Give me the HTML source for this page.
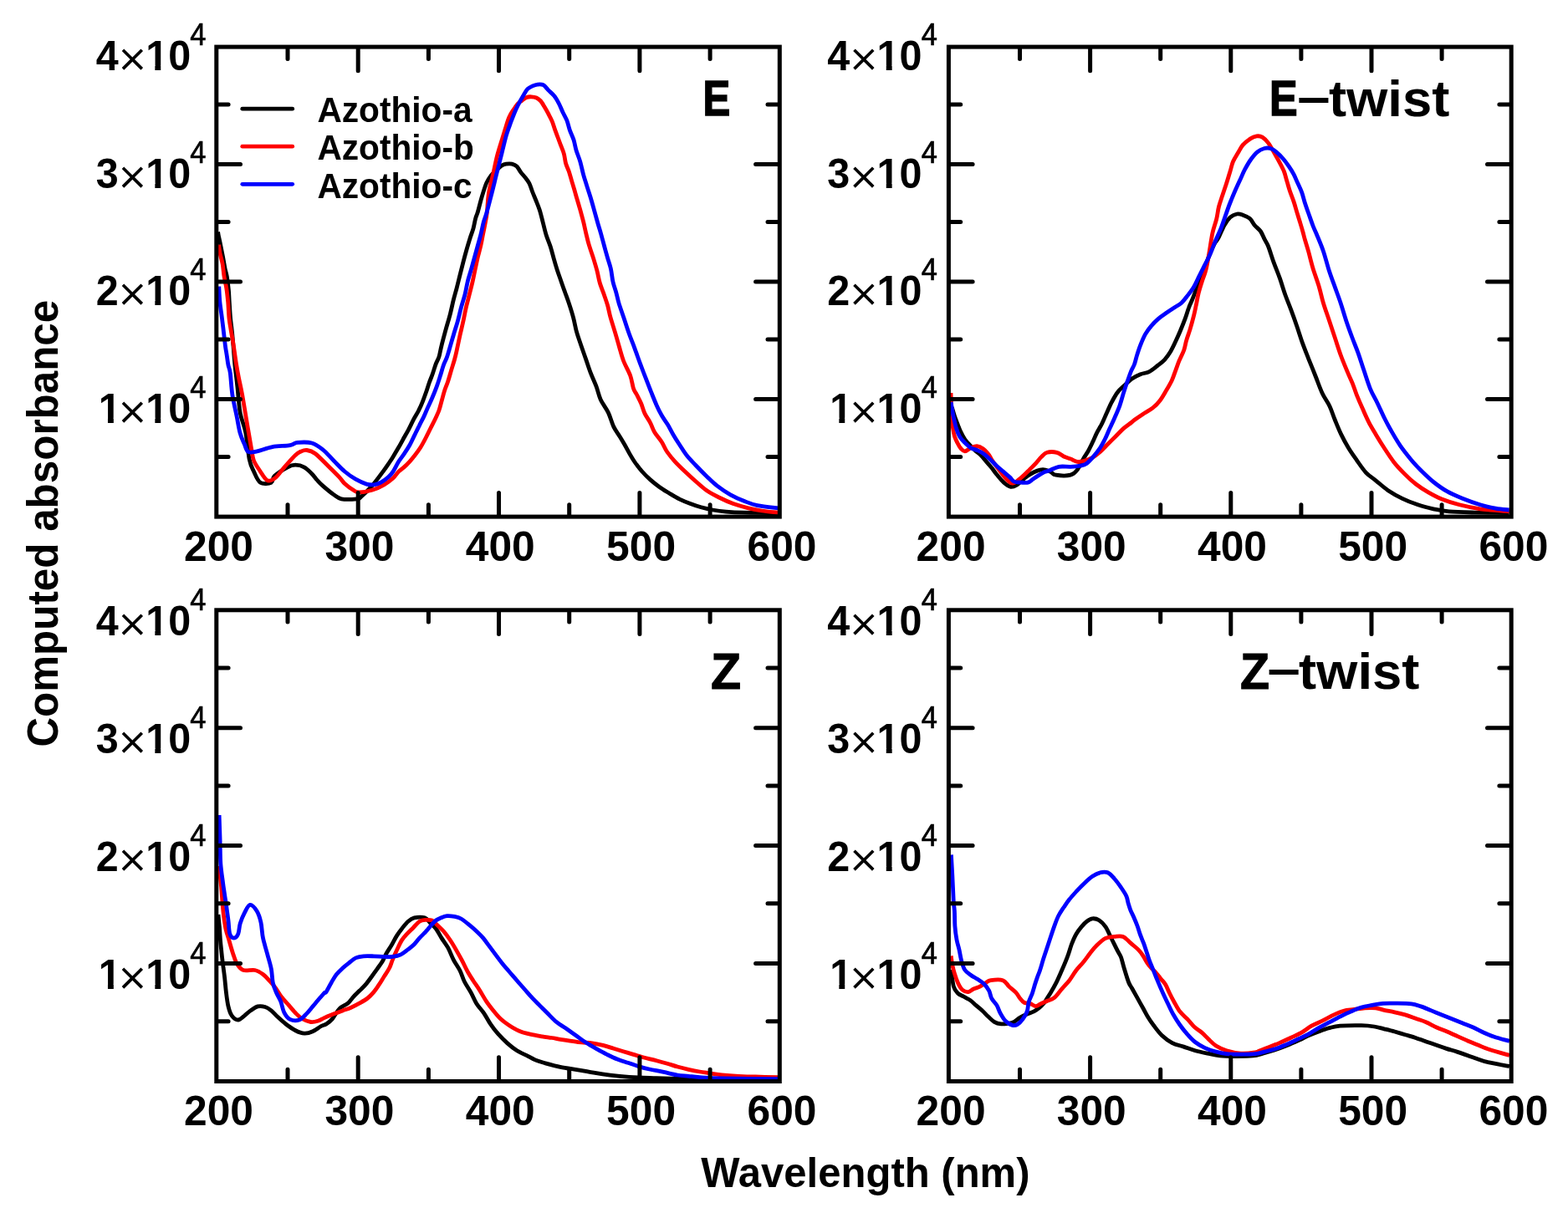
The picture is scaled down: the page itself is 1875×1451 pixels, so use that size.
<!DOCTYPE html>
<html><head><meta charset="utf-8"><title>Computed absorbance spectra</title>
<style>
html,body{margin:0;padding:0;background:#fff;}
svg{display:block;}
text{font-family:"Liberation Sans",Arial,Helvetica,sans-serif;font-weight:bold;fill:#000;}
.reg{font-weight:normal;}
.dj{font-family:"DejaVu Sans",sans-serif;font-weight:normal;}
</style></head><body>
<svg width="1875" height="1451" viewBox="0 0 1875 1451">
<defs><clipPath id="c1"><path d="M-8,-60H40V-6.2H18.6V4H11.5V-6.2H-8Z"/></clipPath></defs>
<rect x="0" y="0" width="1875" height="1451" fill="#fff"/>
<g fill="none" stroke-width="4.8" stroke-linejoin="round" stroke-linecap="butt">
<path stroke="#000" d="M260.6,277.5 C260.8,278.4 260.9,280.0 261.5,282.7 C262.1,285.4 263.1,289.8 263.9,293.9 C264.7,297.9 265.6,302.4 266.5,307.0 C267.4,311.6 268.3,317.4 269.1,321.4 C269.9,325.4 270.7,326.9 271.4,331.2 C272.1,335.5 272.9,341.9 273.4,347.0 C273.9,352.1 273.9,356.3 274.3,362.0 C274.7,367.7 275.0,374.7 275.6,381.0 C276.2,387.3 277.2,393.5 277.8,400.0 C278.4,406.5 279.0,414.1 279.5,420.0 C280.0,425.9 280.1,428.7 280.8,435.7 C281.5,442.7 282.8,452.4 283.8,462.0 C284.9,471.6 285.5,484.2 287.1,493.3 C288.7,502.4 291.8,507.5 293.6,516.9 C295.5,526.3 296.6,541.8 298.2,549.6 C299.8,557.5 301.3,559.4 303.5,564.0 C305.7,568.6 307.8,575.0 311.3,577.2 C314.8,579.4 321.6,578.5 324.4,577.2 C327.2,575.9 325.0,572.4 328.3,569.3 C331.6,566.2 339.9,561.0 344.0,558.8 C348.1,556.6 349.9,556.2 353.2,556.2 C356.5,556.2 360.4,557.0 363.7,558.8 C367.0,560.5 370.3,564.1 372.9,566.7 C375.5,569.3 377.2,572.1 379.4,574.5 C381.6,576.9 382.7,578.2 386.0,581.1 C389.3,584.0 395.3,589.0 399.0,591.6 C402.7,594.2 403.6,595.9 408.2,596.8 C412.8,597.7 422.7,597.2 426.6,596.8 C430.5,596.4 428.8,596.8 431.8,594.2 C434.9,591.6 440.5,586.1 444.9,581.1 C449.3,576.1 454.7,568.5 458.0,564.1 C461.3,559.7 462.5,557.9 464.5,554.9 C466.5,551.9 468.0,549.7 470.0,546.4 C472.0,543.1 474.4,539.1 476.6,535.3 C478.8,531.5 481.2,527.0 483.1,523.5 C485.1,520.0 486.3,518.0 488.3,514.3 C490.3,510.6 492.8,505.1 494.9,501.2 C497.0,497.3 499.1,494.2 500.8,490.7 C502.6,487.2 504.0,483.8 505.4,480.3 C506.8,476.8 508.0,473.5 509.3,469.8 C510.6,466.1 511.9,461.7 513.2,458.0 C514.5,454.3 515.9,451.2 517.2,447.5 C518.5,443.8 519.8,439.2 521.1,435.7 C522.4,432.2 523.9,430.2 525.0,426.6 C526.1,423.0 526.5,419.2 527.9,413.8 C529.2,408.4 531.4,400.4 533.1,394.1 C534.8,387.8 536.8,381.7 538.3,375.8 C539.8,369.9 541.0,363.9 542.3,358.7 C543.6,353.4 544.9,349.3 546.2,344.3 C547.5,339.3 548.8,333.8 550.1,328.6 C551.4,323.4 552.8,317.9 554.1,312.9 C555.4,307.9 556.7,303.1 558.0,298.5 C559.3,293.9 560.6,289.5 561.9,285.4 C563.2,281.2 564.8,277.5 565.9,273.6 C567.0,269.7 567.6,265.2 568.5,261.8 C569.4,258.4 570.3,257.2 571.5,253.0 C572.7,248.8 574.2,242.2 575.9,236.5 C577.6,230.8 579.8,223.4 581.7,218.9 C583.7,214.4 585.7,212.0 587.6,209.5 C589.5,207.0 591.2,205.6 593.4,203.7 C595.5,201.8 598.5,199.1 600.5,197.8 C602.5,196.5 603.2,196.4 605.2,196.1 C607.2,195.8 610.1,195.6 612.2,196.1 C614.3,196.6 616.2,197.3 618.0,199.0 C619.8,200.7 620.9,203.7 622.7,206.0 C624.5,208.3 626.9,210.8 628.6,213.0 C630.3,215.2 631.7,216.8 633.0,219.5 C634.3,222.2 635.2,225.6 636.5,229.0 C637.8,232.4 639.5,236.3 641.0,240.0 C642.5,243.7 643.8,246.7 645.2,251.0 C646.6,255.3 647.9,261.0 649.2,266.0 C650.5,271.0 651.6,276.1 653.1,281.0 C654.6,285.9 656.8,290.5 658.3,295.3 C659.8,300.1 661.0,305.1 662.3,309.7 C663.6,314.3 664.8,318.4 666.2,322.8 C667.6,327.2 669.3,331.5 670.8,335.9 C672.3,340.3 673.8,344.5 675.4,349.0 C677.0,353.5 678.7,357.9 680.4,363.0 C682.1,368.1 684.0,374.0 685.5,379.6 C687.0,385.2 687.9,391.2 689.4,396.7 C690.9,402.2 692.8,406.9 694.6,412.4 C696.5,417.8 698.5,423.7 700.5,429.4 C702.5,435.1 704.3,440.9 706.4,446.4 C708.5,451.8 711.0,456.9 713.0,462.1 C715.0,467.4 715.8,472.6 718.2,477.9 C720.6,483.1 724.8,488.2 727.4,493.6 C730.0,499.1 731.6,505.9 733.9,510.6 C736.2,515.3 738.9,518.6 741.0,522.0 C743.1,525.4 744.4,527.6 746.4,531.0 C748.4,534.4 750.7,538.9 752.8,542.6 C754.9,546.3 756.7,549.4 759.2,553.0 C761.7,556.6 764.8,560.6 767.8,564.0 C770.8,567.4 774.0,570.6 777.4,573.6 C780.8,576.6 784.4,579.5 788.1,582.2 C791.8,584.9 795.7,587.2 799.8,589.7 C803.9,592.2 808.3,595.0 812.6,597.1 C816.9,599.2 821.2,600.9 825.5,602.5 C829.8,604.1 833.8,605.5 838.3,606.8 C842.8,608.0 847.2,609.1 852.2,610.0 C857.2,610.9 862.0,611.6 868.2,612.1 C874.4,612.6 879.3,612.9 889.6,613.2 C899.9,613.5 923.4,613.6 930.2,613.7"/>
<path stroke="#f00" d="M261.6,292.8 C261.8,294.4 262.1,298.6 262.9,302.4 C263.6,306.2 265.2,310.7 266.1,315.5 C267.0,320.3 267.3,326.4 268.1,331.2 C268.9,336.0 269.9,339.3 270.7,344.3 C271.5,349.3 272.1,355.2 272.7,361.3 C273.2,367.4 273.4,375.5 274.0,381.0 C274.6,386.5 275.3,389.7 276.0,394.1 C276.7,398.5 277.6,402.9 278.3,407.2 C279.0,411.5 279.6,415.4 280.3,420.2 C281.0,425.0 281.7,430.7 282.6,436.0 C283.5,441.3 284.3,445.9 285.5,452.0 C286.7,458.1 287.9,462.4 289.7,472.4 C291.5,482.3 294.4,500.8 296.3,511.7 C298.2,522.6 299.6,531.4 300.8,537.9 C302.0,544.4 301.8,546.6 303.5,551.0 C305.2,555.4 309.2,560.7 311.3,564.0 C313.4,567.3 314.4,569.1 316.0,571.0 C317.6,572.9 318.8,575.2 321.1,575.2 C323.4,575.2 326.8,573.7 330.0,571.0 C333.2,568.3 336.2,563.2 340.1,558.8 C344.0,554.4 349.9,547.5 353.2,544.4 C356.5,541.3 357.7,541.0 360.0,540.0 C362.3,539.0 364.2,538.1 367.0,538.5 C369.8,538.9 372.6,539.3 376.8,542.5 C381.1,545.7 387.7,552.8 392.5,557.5 C397.3,562.2 402.3,567.1 405.6,570.6 C408.9,574.1 409.4,575.9 412.2,578.5 C415.0,581.1 419.8,584.6 422.6,586.3 C425.4,588.0 425.5,588.9 429.2,588.9 C432.9,588.9 439.9,587.8 444.9,586.3 C449.9,584.8 455.1,582.2 459.3,579.8 C463.5,577.4 467.1,574.6 470.0,572.0 C472.9,569.4 474.4,566.3 476.6,564.1 C478.8,561.9 480.9,560.9 483.1,558.9 C485.3,556.9 487.5,554.7 489.7,552.3 C491.9,549.9 494.0,547.3 496.2,544.5 C498.4,541.7 500.6,538.8 502.8,535.3 C505.0,531.8 507.4,527.2 509.3,523.5 C511.2,519.8 512.8,516.5 514.5,513.0 C516.2,509.5 518.0,506.2 519.8,502.5 C521.5,498.8 523.6,494.6 525.0,490.7 C526.4,486.8 527.2,482.9 528.3,479.0 C529.4,475.1 530.4,470.9 531.6,467.2 C532.8,463.5 534.2,460.6 535.5,456.7 C536.8,452.8 538.1,448.0 539.4,443.6 C540.7,439.2 542.3,434.4 543.4,430.5 C544.5,426.6 544.9,425.0 546.0,420.0 C547.1,415.0 548.8,406.8 550.1,400.7 C551.5,394.6 552.9,389.1 554.1,383.6 C555.3,378.1 556.1,373.1 557.3,367.9 C558.5,362.7 560.0,357.4 561.3,352.2 C562.6,347.0 564.0,341.8 565.2,336.5 C566.4,331.2 567.4,325.7 568.5,320.7 C569.6,315.7 570.6,310.9 571.7,306.3 C572.8,301.7 574.0,297.6 575.0,293.2 C576.0,288.8 576.7,284.5 577.6,280.1 C578.5,275.7 579.4,271.3 580.2,267.0 C581.0,262.7 581.6,260.6 582.3,254.5 C583.0,248.4 583.2,238.5 584.5,230.6 C585.8,222.7 588.1,214.9 589.9,207.2 C591.6,199.5 593.0,191.9 595.0,184.5 C597.0,177.1 599.9,168.3 601.6,162.7 C603.3,157.1 604.0,154.6 605.2,150.9 C606.4,147.2 607.3,143.5 608.7,140.4 C610.1,137.3 611.6,134.9 613.4,132.2 C615.1,129.5 617.5,126.0 619.2,124.0 C621.0,122.0 622.1,121.8 623.9,120.5 C625.7,119.2 627.8,117.2 629.8,116.4 C631.8,115.6 633.6,115.7 635.6,115.8 C637.6,115.9 639.7,116.2 641.5,117.0 C643.3,117.8 644.6,118.8 646.2,120.5 C647.8,122.2 649.4,125.0 650.9,127.5 C652.4,130.0 654.0,132.8 655.5,135.7 C657.0,138.6 658.8,141.8 660.2,145.1 C661.6,148.4 662.6,152.3 663.8,155.6 C665.0,158.9 666.1,161.9 667.3,165.0 C668.5,168.1 669.6,171.3 670.8,174.4 C672.0,177.5 673.3,180.3 674.3,183.8 C675.3,187.3 675.6,192.0 676.6,195.5 C677.6,199.0 679.0,201.3 680.2,204.8 C681.4,208.3 682.5,212.7 683.7,216.6 C684.9,220.5 686.3,225.2 687.2,228.3 C688.1,231.4 688.0,231.3 689.1,235.0 C690.2,238.7 692.3,245.7 693.7,250.7 C695.1,255.7 696.4,260.4 697.6,265.2 C698.8,270.0 699.8,275.0 700.9,279.6 C702.0,284.2 702.8,287.9 704.2,292.7 C705.6,297.5 707.8,303.2 709.4,308.4 C711.0,313.6 712.7,319.1 714.0,324.1 C715.3,329.1 715.9,333.7 717.3,338.5 C718.7,343.3 721.0,348.5 722.5,352.9 C724.0,357.3 725.2,360.6 726.5,365.0 C727.8,369.4 728.5,374.3 730.0,379.6 C731.5,384.9 733.5,390.8 735.2,396.7 C737.0,402.6 738.8,409.1 740.5,415.0 C742.2,420.9 743.5,426.3 745.7,432.0 C747.9,437.7 751.6,443.5 753.6,449.0 C755.6,454.5 756.2,461.0 757.5,464.8 C758.8,468.6 759.9,469.0 761.4,472.0 C762.9,475.0 765.1,479.0 766.7,482.8 C768.3,486.6 769.2,490.9 771.0,494.6 C772.8,498.4 775.4,501.6 777.4,505.3 C779.4,509.0 780.4,513.1 782.7,517.0 C785.0,520.9 788.8,524.9 791.3,528.8 C793.8,532.7 795.0,536.6 797.7,540.5 C800.4,544.4 803.7,548.4 807.3,552.3 C810.9,556.2 815.0,560.1 819.1,564.0 C823.2,567.9 827.6,572.0 831.9,575.8 C836.2,579.5 840.1,583.3 844.7,586.5 C849.3,589.7 854.4,592.3 859.7,595.0 C865.1,597.7 870.9,600.4 876.8,602.5 C882.7,604.6 889.2,606.4 894.9,607.8 C900.6,609.2 905.0,610.1 910.9,611.0 C916.8,611.9 927.0,612.8 930.2,613.2"/>
<path stroke="#00f" d="M261.8,342.6 C262.0,345.7 262.3,354.9 262.9,361.3 C263.5,367.7 264.8,375.1 265.5,381.0 C266.2,386.9 266.8,391.2 267.4,396.7 C268.0,402.1 268.8,409.0 269.4,413.7 C270.0,418.4 270.6,421.1 271.2,425.0 C271.8,428.9 272.3,433.5 273.0,437.0 C273.7,440.5 274.5,440.3 275.3,446.2 C276.1,452.1 276.6,463.7 277.9,472.4 C279.2,481.1 281.7,491.0 283.2,498.6 C284.7,506.2 285.6,512.8 287.1,518.2 C288.6,523.7 290.7,527.6 292.3,531.3 C293.9,535.0 294.4,539.1 296.9,540.5 C299.4,541.9 302.6,540.8 307.4,539.8 C312.2,538.8 319.1,535.8 325.7,534.6 C332.2,533.4 341.7,533.5 346.7,532.6 C351.7,531.7 351.4,529.8 355.8,529.4 C360.2,529.0 367.9,528.6 372.9,530.0 C377.9,531.4 381.6,534.4 386.0,537.9 C390.4,541.4 394.6,546.6 399.0,551.0 C403.4,555.4 407.8,560.3 412.2,564.0 C416.6,567.7 420.8,570.7 425.2,573.2 C429.6,575.7 434.6,578.0 438.3,579.1 C442.0,580.2 444.6,580.1 447.5,579.8 C450.4,579.5 452.6,578.7 455.4,577.2 C458.2,575.7 462.1,572.8 464.5,570.6 C466.9,568.4 468.0,567.2 470.0,564.1 C472.0,561.0 474.4,555.8 476.6,552.3 C478.8,548.8 480.9,546.4 483.1,543.1 C485.3,539.8 487.5,536.6 489.7,532.7 C491.9,528.8 494.2,523.5 496.2,519.6 C498.1,515.7 499.6,512.6 501.4,509.1 C503.1,505.6 504.9,502.3 506.7,498.6 C508.4,494.9 510.1,490.7 511.9,486.8 C513.6,482.9 515.5,479.1 517.2,475.0 C519.0,470.9 520.9,466.0 522.4,461.9 C523.9,457.8 525.0,454.2 526.3,450.1 C527.6,446.0 529.0,440.7 530.3,437.0 C531.6,433.3 533.1,430.9 534.2,427.9 C535.3,424.9 535.6,423.5 537.0,419.0 C538.4,414.5 540.5,406.6 542.3,400.7 C544.0,394.8 546.0,389.1 547.5,383.6 C549.0,378.1 550.0,373.1 551.4,367.9 C552.8,362.7 554.7,357.4 556.0,352.2 C557.3,347.0 558.0,341.8 559.3,336.5 C560.6,331.2 562.5,325.7 563.9,320.7 C565.3,315.7 566.6,310.7 567.8,306.3 C569.0,301.9 569.9,298.9 571.1,294.5 C572.3,290.1 573.8,284.9 575.0,280.1 C576.2,275.3 577.1,270.1 578.3,265.7 C579.5,261.3 580.6,259.4 582.2,253.5 C583.9,247.7 586.2,238.3 588.2,230.6 C590.2,222.9 592.0,215.0 594.0,207.2 C596.0,199.4 598.0,191.2 599.9,183.8 C601.8,176.4 603.7,168.0 605.2,162.7 C606.7,157.4 607.5,155.4 608.7,152.1 C609.9,148.8 610.8,146.2 612.2,142.7 C613.6,139.2 615.3,134.5 616.9,131.0 C618.5,127.5 620.0,124.5 621.6,121.6 C623.2,118.7 624.8,115.9 626.3,113.4 C627.8,110.9 629.1,108.2 630.9,106.4 C632.6,104.7 634.8,103.8 636.8,102.9 C638.8,102.0 640.6,101.3 642.7,101.1 C644.9,100.9 647.6,100.6 649.7,101.7 C651.8,102.8 653.4,105.4 655.5,107.6 C657.6,109.8 660.5,111.9 662.6,114.6 C664.8,117.3 666.6,120.7 668.4,124.0 C670.1,127.3 671.5,131.2 673.1,134.5 C674.7,137.8 676.4,140.4 677.8,143.9 C679.2,147.4 679.9,151.7 681.3,155.6 C682.7,159.5 684.7,163.2 686.0,167.3 C687.3,171.4 687.8,175.7 689.1,180.0 C690.4,184.3 692.3,188.3 693.7,193.1 C695.1,197.9 696.3,204.0 697.6,208.8 C698.9,213.6 700.2,217.3 701.6,221.9 C703.0,226.5 704.7,231.3 706.2,236.3 C707.7,241.3 709.3,247.1 710.7,252.1 C712.1,257.1 713.4,261.9 714.7,266.5 C716.0,271.1 717.3,275.0 718.6,279.6 C719.9,284.2 721.2,289.2 722.5,294.0 C723.8,298.8 725.2,303.8 726.5,308.4 C727.8,313.0 729.3,316.7 730.4,321.5 C731.5,326.3 731.9,332.4 733.0,337.2 C734.1,342.0 735.7,346.1 736.9,350.3 C738.1,354.5 738.5,357.7 740.0,362.6 C741.5,367.5 743.7,373.5 745.7,379.6 C747.8,385.7 750.1,393.2 752.3,399.3 C754.5,405.4 756.6,410.4 758.8,416.3 C761.0,422.2 763.2,428.7 765.4,434.6 C767.6,440.5 769.7,446.0 771.9,451.7 C774.1,457.4 776.3,463.2 778.5,468.7 C780.7,474.1 782.9,479.7 785.0,484.4 C787.1,489.1 789.0,493.0 791.3,497.0 C793.6,501.0 796.5,504.6 798.8,508.5 C801.1,512.4 802.9,516.3 805.2,520.2 C807.5,524.1 809.9,527.9 812.6,532.0 C815.3,536.1 818.0,540.7 821.2,544.8 C824.4,548.9 828.0,552.4 831.9,556.5 C835.8,560.6 840.4,565.3 844.7,569.4 C849.0,573.5 852.7,577.4 857.5,581.1 C862.3,584.8 868.1,588.8 873.5,591.8 C878.9,594.8 884.2,597.2 889.6,599.3 C895.0,601.4 898.8,603.2 905.6,604.6 C912.4,606.0 926.1,607.3 930.2,607.8"/>
<path stroke="#000" d="M1138.3,487.2 C1138.8,488.9 1140.4,494.4 1141.4,497.5 C1142.4,500.6 1143.3,502.7 1144.5,505.8 C1145.7,508.9 1147.0,512.8 1148.6,516.1 C1150.1,519.4 1151.9,522.7 1153.8,525.5 C1155.7,528.3 1157.9,530.5 1160.0,532.7 C1162.1,534.9 1164.0,536.8 1166.2,538.9 C1168.4,541.0 1171.2,542.9 1173.4,545.1 C1175.6,547.3 1177.5,549.9 1179.6,552.3 C1181.7,554.7 1183.7,557.0 1185.8,559.6 C1187.9,562.2 1189.6,564.9 1192.0,567.8 C1194.4,570.7 1197.5,574.7 1200.3,577.1 C1203.1,579.5 1206.0,581.8 1208.6,582.3 C1211.2,582.8 1213.4,581.6 1215.8,580.2 C1218.2,578.8 1220.8,575.9 1223.0,574.0 C1225.2,572.1 1227.0,570.4 1229.2,568.9 C1231.5,567.4 1234.1,565.8 1236.5,564.7 C1238.9,563.6 1241.5,562.6 1243.7,562.1 C1246.0,561.6 1247.8,561.6 1250.0,562.0 C1252.2,562.4 1254.6,563.7 1256.7,564.7 C1258.8,565.7 1258.7,567.6 1262.6,568.2 C1266.5,568.8 1275.9,569.3 1280.2,568.2 C1284.5,567.1 1285.9,565.0 1288.4,561.8 C1290.9,558.6 1293.2,552.6 1295.4,548.9 C1297.6,545.2 1299.3,543.0 1301.3,539.5 C1303.2,536.0 1305.3,531.5 1307.1,527.8 C1308.8,524.1 1310.0,520.8 1311.8,517.3 C1313.6,513.8 1315.8,510.6 1317.7,506.7 C1319.7,502.8 1321.5,498.1 1323.5,493.8 C1325.5,489.5 1327.2,485.0 1329.4,480.9 C1331.6,476.8 1333.9,472.5 1336.4,469.2 C1338.9,465.9 1341.7,463.7 1344.6,461.0 C1347.5,458.3 1350.8,455.0 1354.0,452.8 C1357.2,450.6 1360.4,449.0 1363.7,447.7 C1367.0,446.4 1370.4,446.5 1373.8,444.8 C1377.2,443.1 1380.9,439.9 1384.0,437.5 C1387.1,435.1 1389.9,433.2 1392.6,430.3 C1395.2,427.4 1397.7,423.8 1399.9,420.2 C1402.1,416.6 1403.8,412.7 1405.7,408.6 C1407.6,404.5 1409.6,400.1 1411.5,395.5 C1413.4,390.9 1415.5,385.7 1417.2,381.1 C1418.9,376.5 1420.1,371.9 1421.6,368.0 C1423.0,364.1 1424.5,361.5 1425.9,357.9 C1427.4,354.3 1428.6,350.9 1430.3,346.3 C1432.0,341.7 1434.0,335.1 1436.0,330.0 C1438.0,324.9 1440.1,320.7 1442.0,316.0 C1443.9,311.3 1445.8,306.0 1447.5,302.0 C1449.2,298.0 1450.4,294.9 1452.0,292.0 C1453.6,289.1 1454.9,288.4 1456.9,284.7 C1458.9,280.9 1461.7,273.6 1464.0,269.5 C1466.3,265.4 1468.5,262.4 1471.0,260.1 C1473.5,257.9 1476.7,256.5 1479.2,256.0 C1481.7,255.5 1483.7,256.3 1486.2,257.2 C1488.7,258.1 1492.1,259.2 1494.4,261.3 C1496.8,263.4 1498.2,267.0 1500.3,269.5 C1502.4,272.0 1505.3,273.8 1507.3,276.5 C1509.2,279.2 1510.5,282.9 1512.0,285.9 C1513.5,288.9 1514.6,289.8 1516.5,294.5 C1518.4,299.2 1521.0,308.1 1523.3,314.4 C1525.6,320.7 1527.9,326.0 1530.2,332.4 C1532.5,338.8 1534.7,346.6 1537.0,353.0 C1539.3,359.4 1541.6,364.7 1543.9,370.9 C1546.2,377.1 1548.5,383.5 1550.8,390.2 C1553.1,396.9 1555.4,404.5 1557.7,410.9 C1560.0,417.3 1562.1,422.4 1564.6,428.8 C1567.1,435.2 1570.2,442.6 1572.9,449.5 C1575.7,456.4 1578.2,464.1 1581.1,470.2 C1583.9,476.3 1587.5,480.6 1590.0,485.9 C1592.5,491.2 1593.9,496.4 1596.2,502.0 C1598.5,507.6 1600.9,513.8 1603.6,519.4 C1606.3,525.0 1609.2,530.3 1612.3,535.5 C1615.4,540.7 1618.8,545.4 1622.3,550.4 C1625.8,555.4 1629.5,561.1 1633.4,565.3 C1637.3,569.4 1641.5,571.8 1645.8,575.3 C1650.1,578.8 1654.3,582.9 1659.5,586.4 C1664.7,589.9 1670.9,593.4 1676.9,596.3 C1682.9,599.2 1689.3,601.7 1695.5,603.8 C1701.7,605.9 1707.9,607.4 1714.1,608.8 C1720.3,610.1 1724.4,611.2 1732.7,611.9 C1741.0,612.6 1751.7,612.8 1763.7,613.1 C1775.7,613.4 1797.9,613.6 1804.7,613.7"/>
<path stroke="#f00" d="M1137.0,470.0 C1137.1,472.0 1137.3,477.0 1137.5,482.0 C1137.7,487.0 1137.9,495.0 1138.2,500.0 C1138.5,505.0 1139.0,508.3 1139.5,512.0 C1140.0,515.7 1140.6,519.0 1141.5,522.0 C1142.4,525.0 1143.8,527.6 1145.0,530.0 C1146.2,532.4 1147.5,534.9 1149.0,536.5 C1150.5,538.1 1151.8,540.0 1153.8,539.9 C1155.8,539.8 1158.6,536.8 1161.0,535.8 C1163.4,534.8 1165.8,533.5 1168.2,533.7 C1170.6,533.9 1173.2,535.2 1175.5,536.8 C1177.8,538.3 1180.0,540.8 1181.7,543.0 C1183.5,545.2 1184.3,547.4 1186.0,550.0 C1187.7,552.6 1189.3,554.8 1192.0,558.5 C1194.7,562.2 1199.3,568.7 1202.4,572.0 C1205.5,575.3 1208.0,577.9 1210.6,578.2 C1213.2,578.5 1215.5,575.7 1217.9,574.0 C1220.3,572.3 1222.9,569.9 1225.1,567.8 C1227.3,565.7 1229.1,563.8 1231.3,561.6 C1233.5,559.4 1236.2,556.9 1238.5,554.4 C1240.8,551.9 1243.2,548.6 1245.4,546.4 C1247.7,544.2 1248.9,542.1 1252.0,541.3 C1255.1,540.4 1260.5,540.5 1263.8,541.3 C1267.1,542.1 1269.3,544.7 1272.0,546.0 C1274.7,547.3 1277.5,547.8 1280.2,548.9 C1282.9,550.0 1285.7,552.0 1288.4,552.4 C1291.1,552.8 1293.7,552.1 1296.6,551.3 C1299.5,550.5 1302.8,549.5 1305.9,547.7 C1309.0,545.9 1312.2,543.4 1315.3,540.7 C1318.4,538.0 1321.6,534.4 1324.7,531.3 C1327.8,528.2 1331.0,525.1 1334.1,522.0 C1337.2,518.9 1340.3,515.4 1343.4,512.6 C1346.5,509.9 1350.5,507.3 1352.8,505.5 C1355.1,503.7 1354.7,503.7 1357.0,502.0 C1359.3,500.3 1363.1,497.7 1366.6,495.4 C1370.1,493.1 1374.8,490.8 1378.2,488.2 C1381.6,485.6 1384.2,482.9 1386.8,479.5 C1389.4,476.1 1391.7,472.0 1394.1,467.9 C1396.5,463.8 1399.4,459.0 1401.3,454.9 C1403.2,450.8 1404.2,447.2 1405.7,443.3 C1407.2,439.4 1408.3,435.8 1410.0,431.7 C1411.7,427.6 1414.3,422.8 1415.8,418.7 C1417.2,414.6 1417.5,411.2 1418.7,407.1 C1419.9,403.0 1421.5,398.9 1423.0,394.1 C1424.5,389.3 1426.2,383.0 1427.4,378.2 C1428.6,373.4 1429.3,369.7 1430.3,365.1 C1431.3,360.5 1432.0,355.5 1433.2,350.7 C1434.4,345.9 1436.0,340.8 1437.5,336.2 C1439.0,331.6 1440.6,328.4 1441.9,323.2 C1443.2,318.0 1444.2,312.4 1445.5,305.0 C1446.8,297.6 1448.4,285.9 1449.9,278.8 C1451.4,271.7 1453.3,267.7 1454.6,262.4 C1455.9,257.1 1456.3,251.9 1457.5,247.2 C1458.7,242.5 1460.1,238.8 1461.6,234.3 C1463.1,229.8 1464.7,225.2 1466.3,220.3 C1467.9,215.4 1469.6,209.5 1471.0,205.0 C1472.4,200.5 1472.9,197.0 1474.5,193.3 C1476.1,189.6 1478.5,186.1 1480.4,182.8 C1482.4,179.5 1483.9,176.1 1486.2,173.4 C1488.5,170.7 1491.7,168.2 1494.4,166.4 C1497.1,164.7 1500.1,163.3 1502.6,162.9 C1505.1,162.5 1507.2,162.7 1509.6,164.1 C1511.9,165.5 1514.3,168.0 1516.7,171.1 C1519.1,174.2 1521.6,179.1 1523.7,182.8 C1525.8,186.5 1527.6,189.6 1529.6,193.3 C1531.5,197.0 1533.9,201.1 1535.4,205.0 C1537.0,208.9 1537.7,212.9 1538.9,216.8 C1540.1,220.7 1541.0,224.4 1542.4,228.5 C1543.8,232.6 1545.7,237.3 1547.1,241.4 C1548.5,245.5 1549.4,249.2 1550.6,253.1 C1551.8,257.0 1553.0,260.9 1554.2,264.8 C1555.4,268.7 1556.7,272.8 1557.7,276.5 C1558.8,280.2 1559.3,283.0 1560.5,287.0 C1561.7,291.0 1563.0,295.0 1564.6,300.7 C1566.2,306.4 1568.0,314.4 1570.1,321.3 C1572.2,328.2 1574.9,335.1 1577.0,342.0 C1579.1,348.9 1580.4,355.8 1582.5,362.7 C1584.6,369.6 1587.1,376.4 1589.4,383.3 C1591.7,390.2 1594.0,397.1 1596.3,404.0 C1598.6,410.9 1600.7,417.8 1603.2,424.7 C1605.7,431.6 1609.2,439.8 1611.5,445.4 C1613.8,451.0 1615.5,454.1 1617.3,458.6 C1619.1,463.1 1620.2,467.1 1622.3,472.3 C1624.4,477.5 1627.2,484.0 1629.7,489.6 C1632.2,495.2 1634.5,500.6 1637.2,505.8 C1639.9,511.0 1642.7,515.5 1645.8,520.7 C1648.9,525.9 1652.3,531.4 1655.8,536.8 C1659.3,542.2 1663.0,547.9 1666.9,552.9 C1670.8,557.9 1675.0,562.2 1679.3,566.6 C1683.6,571.0 1688.2,575.3 1693.0,579.0 C1697.8,582.7 1702.7,585.9 1707.9,588.9 C1713.1,591.9 1717.8,594.5 1724.0,597.0 C1730.2,599.5 1737.4,601.8 1745.1,603.8 C1752.8,605.8 1760.0,607.4 1769.9,608.8 C1779.8,610.1 1798.9,611.4 1804.7,611.9"/>
<path stroke="#00f" d="M1137.2,481.0 C1137.5,482.7 1138.2,487.9 1138.8,491.3 C1139.4,494.8 1140.1,498.2 1140.9,501.7 C1141.7,505.1 1142.3,508.6 1143.4,512.0 C1144.5,515.5 1145.9,519.5 1147.6,522.4 C1149.3,525.3 1151.6,527.4 1153.8,529.6 C1156.0,531.8 1158.4,534.2 1161.0,535.8 C1163.6,537.3 1166.7,537.7 1169.3,538.9 C1171.9,540.1 1174.1,541.3 1176.5,543.0 C1178.9,544.7 1181.1,546.8 1183.7,549.2 C1186.3,551.6 1189.2,554.9 1192.0,557.5 C1194.8,560.1 1197.7,562.5 1200.3,564.7 C1202.9,566.9 1205.4,569.0 1207.5,570.9 C1209.6,572.8 1210.5,575.1 1212.7,576.1 C1215.0,577.1 1218.2,576.9 1221.0,577.1 C1223.8,577.3 1226.8,577.8 1229.2,577.1 C1231.6,576.4 1233.3,574.4 1235.4,573.0 C1237.5,571.6 1239.3,570.3 1241.6,568.9 C1243.8,567.5 1246.8,565.7 1248.9,564.7 C1251.0,563.7 1251.5,564.1 1254.4,563.0 C1257.3,561.9 1261.8,559.1 1266.1,558.3 C1270.4,557.5 1275.9,558.5 1280.2,558.3 C1284.5,558.1 1288.8,557.7 1291.9,557.1 C1295.0,556.5 1296.4,556.5 1298.9,554.8 C1301.4,553.0 1304.4,549.7 1307.1,546.6 C1309.8,543.5 1312.9,539.5 1315.3,536.0 C1317.7,532.5 1319.2,529.4 1321.2,525.5 C1323.2,521.6 1325.0,516.9 1327.0,512.6 C1329.0,508.3 1330.9,504.2 1332.9,499.7 C1334.9,495.2 1337.0,490.5 1338.8,485.6 C1340.5,480.7 1341.9,475.3 1343.4,470.4 C1345.0,465.5 1346.5,460.8 1348.1,456.3 C1349.7,451.8 1351.4,446.8 1352.8,443.4 C1354.2,440.0 1355.3,438.9 1356.4,436.0 C1357.5,433.1 1358.1,429.8 1359.3,425.9 C1360.5,422.0 1362.0,417.2 1363.7,412.9 C1365.4,408.6 1367.3,403.8 1369.5,399.9 C1371.7,396.0 1374.0,392.9 1376.7,389.8 C1379.4,386.7 1382.3,383.8 1385.4,381.1 C1388.5,378.4 1392.4,376.0 1395.5,373.8 C1398.6,371.6 1401.3,369.9 1404.2,368.0 C1407.1,366.1 1410.2,364.6 1412.9,362.2 C1415.6,359.8 1417.7,356.7 1420.1,353.6 C1422.5,350.5 1425.2,347.0 1427.4,343.4 C1429.6,339.8 1431.3,335.6 1433.2,331.8 C1435.1,328.0 1437.1,324.1 1439.0,320.3 C1440.9,316.5 1443.1,312.6 1444.8,309.0 C1446.5,305.4 1447.7,302.5 1449.1,299.0 C1450.5,295.5 1451.5,292.7 1453.4,288.2 C1455.3,283.7 1458.3,277.3 1460.5,271.8 C1462.7,266.3 1464.5,260.3 1466.3,255.4 C1468.0,250.5 1469.2,247.0 1471.0,242.5 C1472.8,238.0 1474.8,233.0 1476.8,228.5 C1478.8,224.0 1480.7,219.9 1482.7,215.6 C1484.7,211.3 1486.4,206.8 1488.6,202.7 C1490.8,198.6 1493.1,194.5 1495.6,191.0 C1498.1,187.5 1501.1,183.8 1503.8,181.6 C1506.5,179.3 1509.5,178.2 1512.0,177.5 C1514.5,176.8 1516.7,176.8 1519.0,177.5 C1521.3,178.2 1523.5,179.5 1526.0,181.6 C1528.5,183.7 1531.7,186.9 1534.2,189.8 C1536.8,192.7 1539.2,196.1 1541.3,199.2 C1543.4,202.3 1545.3,205.3 1547.1,208.6 C1548.8,211.9 1550.2,215.6 1551.8,219.1 C1553.4,222.6 1555.1,225.9 1556.5,229.6 C1557.9,233.3 1558.6,237.0 1560.0,241.4 C1561.4,245.8 1563.3,251.2 1565.0,256.0 C1566.7,260.8 1568.5,266.0 1570.0,270.0 C1571.5,274.0 1572.2,274.9 1574.3,280.0 C1576.4,285.1 1580.0,293.3 1582.5,300.7 C1585.0,308.1 1587.1,317.0 1589.4,324.1 C1591.7,331.2 1594.0,337.0 1596.3,343.4 C1598.6,349.8 1600.9,355.8 1603.2,362.7 C1605.5,369.6 1607.8,377.8 1610.1,384.7 C1612.4,391.6 1614.7,397.8 1617.0,404.0 C1619.3,410.2 1621.6,415.5 1623.9,421.9 C1626.2,428.3 1628.4,435.5 1630.8,442.6 C1633.2,449.8 1635.7,458.2 1638.4,464.8 C1641.1,471.4 1644.2,476.2 1647.1,482.2 C1650.0,488.2 1652.9,495.0 1655.8,500.8 C1658.7,506.6 1661.4,511.5 1664.5,516.9 C1667.6,522.3 1670.7,527.7 1674.4,533.1 C1678.1,538.5 1682.7,544.2 1686.8,549.2 C1690.9,554.2 1694.7,558.2 1699.2,562.8 C1703.8,567.3 1708.9,572.4 1714.1,576.5 C1719.3,580.6 1724.4,584.4 1730.2,587.7 C1736.0,591.0 1742.2,593.6 1748.8,596.3 C1755.4,599.0 1763.3,601.8 1769.9,603.8 C1776.5,605.8 1782.7,607.1 1788.5,608.1 C1794.3,609.1 1802.0,609.7 1804.7,610.0"/>
<path stroke="#000" d="M261.0,1094.0 C261.2,1096.7 262.1,1104.8 262.5,1110.0 C262.9,1115.2 263.1,1120.0 263.5,1125.0 C263.9,1130.0 264.6,1135.7 265.0,1140.0 C265.4,1144.3 265.6,1145.7 266.2,1150.6 C266.8,1155.5 267.9,1163.0 268.6,1169.2 C269.3,1175.4 269.8,1182.0 270.5,1187.8 C271.2,1193.6 271.9,1199.4 273.0,1203.9 C274.1,1208.5 275.3,1212.4 277.3,1215.1 C279.3,1217.8 282.3,1220.0 284.8,1220.0 C287.3,1220.0 289.7,1216.9 292.2,1215.1 C294.7,1213.2 296.9,1210.8 299.6,1208.9 C302.3,1207.0 305.4,1204.6 308.3,1203.9 C311.2,1203.2 314.3,1203.7 317.0,1204.5 C319.7,1205.3 321.9,1206.9 324.4,1208.9 C326.9,1210.9 329.0,1213.6 331.9,1216.3 C334.8,1219.0 338.3,1222.3 341.8,1225.0 C345.3,1227.7 349.3,1230.6 353.0,1232.5 C356.7,1234.4 360.6,1236.0 364.1,1236.2 C367.6,1236.4 370.7,1235.2 374.0,1233.7 C377.3,1232.2 381.3,1229.0 384.0,1227.5 C386.7,1226.0 387.8,1226.5 390.0,1225.0 C392.2,1223.5 394.7,1221.9 397.4,1218.8 C400.1,1215.7 403.0,1209.5 406.1,1206.4 C409.2,1203.3 413.3,1202.5 416.0,1200.2 C418.7,1197.9 419.9,1195.3 422.2,1192.8 C424.5,1190.3 427.2,1187.8 429.7,1185.3 C432.2,1182.8 434.6,1180.8 437.1,1177.9 C439.6,1175.0 442.3,1171.1 444.6,1168.0 C446.9,1164.9 448.7,1162.2 450.8,1159.3 C452.9,1156.4 455.1,1153.7 457.0,1150.6 C458.9,1147.5 460.0,1144.0 461.9,1140.7 C463.8,1137.4 466.0,1134.3 468.1,1130.8 C470.2,1127.3 472.2,1122.9 474.3,1119.6 C476.4,1116.3 478.2,1113.8 480.5,1110.9 C482.8,1108.0 485.5,1104.4 488.0,1102.2 C490.5,1100.0 492.1,1098.6 495.4,1097.9 C498.7,1097.2 504.5,1096.8 507.8,1097.9 C511.1,1099.0 512.9,1102.5 515.2,1104.7 C517.5,1106.9 519.3,1108.1 521.4,1111.0 C523.5,1113.9 525.5,1118.1 527.9,1121.9 C530.3,1125.7 533.3,1129.3 535.7,1133.7 C538.1,1138.1 539.9,1143.5 542.3,1148.1 C544.7,1152.7 547.9,1156.8 550.1,1161.2 C552.3,1165.6 553.2,1169.9 555.4,1174.3 C557.6,1178.7 560.8,1183.0 563.2,1187.4 C565.6,1191.8 567.2,1196.3 569.8,1200.5 C572.4,1204.7 576.1,1208.1 578.9,1212.3 C581.7,1216.5 583.9,1221.2 586.8,1225.4 C589.6,1229.6 592.7,1233.5 596.0,1237.2 C599.3,1240.9 602.7,1244.3 606.4,1247.6 C610.1,1250.9 614.1,1254.2 618.2,1256.8 C622.4,1259.4 627.7,1261.4 631.3,1263.3 C634.9,1265.2 636.9,1266.6 640.0,1267.9 C643.1,1269.2 645.2,1269.9 650.2,1271.3 C655.2,1272.7 663.1,1275.0 669.9,1276.4 C676.7,1277.8 684.5,1278.7 691.2,1279.8 C697.9,1280.9 703.6,1282.1 710.0,1283.2 C716.4,1284.3 722.5,1285.3 729.6,1286.2 C736.7,1287.1 743.4,1287.8 752.6,1288.4 C761.8,1289.0 772.1,1289.2 785.0,1289.6 C797.9,1290.0 805.8,1290.4 830.0,1290.7 C854.2,1291.0 913.3,1291.2 930.0,1291.3"/>
<path stroke="#f00" d="M261.7,1036.0 C262.2,1040.0 263.8,1052.6 264.5,1060.3 C265.2,1068.0 265.7,1076.7 266.2,1082.4 C266.7,1088.2 266.8,1090.0 267.4,1094.8 C268.0,1099.5 268.8,1105.7 269.9,1110.9 C271.0,1116.1 272.8,1120.8 274.2,1125.8 C275.6,1130.8 277.1,1136.2 278.6,1140.7 C280.2,1145.2 281.4,1149.8 283.5,1153.1 C285.6,1156.4 287.5,1159.3 291.0,1160.5 C294.5,1161.7 300.7,1159.7 304.6,1160.5 C308.5,1161.3 311.6,1163.4 314.5,1165.5 C317.4,1167.6 319.5,1170.2 322.0,1172.9 C324.5,1175.6 326.9,1178.3 329.4,1181.6 C331.9,1184.9 334.1,1189.3 336.8,1192.8 C339.5,1196.3 342.6,1199.4 345.5,1202.7 C348.4,1206.0 351.5,1209.9 354.2,1212.6 C356.9,1215.3 358.7,1217.1 361.6,1218.8 C364.5,1220.5 368.5,1222.1 371.6,1222.5 C374.7,1222.9 377.5,1222.1 380.2,1221.3 C382.9,1220.5 385.2,1218.7 387.7,1217.6 C390.2,1216.5 393.0,1215.3 395.0,1214.5 C397.0,1213.7 397.4,1213.5 399.9,1212.6 C402.4,1211.7 406.5,1210.1 409.8,1208.9 C413.1,1207.7 416.5,1206.7 419.8,1205.2 C423.1,1203.8 426.4,1202.1 429.7,1200.2 C433.0,1198.3 436.7,1196.3 439.6,1194.0 C442.5,1191.7 444.7,1189.3 447.0,1186.6 C449.3,1183.9 451.1,1181.0 453.2,1177.9 C455.3,1174.8 457.3,1171.3 459.4,1168.0 C461.5,1164.7 463.9,1161.3 465.6,1158.0 C467.3,1154.7 467.9,1151.6 469.4,1148.1 C470.8,1144.6 472.4,1140.9 474.3,1137.0 C476.2,1133.1 478.4,1127.9 480.5,1124.6 C482.6,1121.3 484.4,1119.6 486.7,1117.1 C489.0,1114.6 491.7,1112.2 494.2,1109.7 C496.7,1107.2 499.1,1103.8 501.6,1102.2 C504.1,1100.7 506.5,1100.6 509.0,1100.4 C511.5,1100.2 514.2,1100.0 516.5,1101.0 C518.8,1102.0 520.3,1104.0 522.6,1106.2 C524.9,1108.4 527.9,1111.0 530.5,1114.0 C533.1,1117.0 535.7,1120.6 538.3,1124.5 C540.9,1128.4 543.8,1133.4 546.2,1137.6 C548.6,1141.8 550.5,1145.2 552.7,1149.4 C554.9,1153.6 557.1,1158.6 559.3,1162.5 C561.5,1166.4 563.4,1169.3 565.8,1173.0 C568.2,1176.7 571.1,1180.6 573.7,1184.8 C576.3,1189.0 579.0,1194.0 581.6,1197.9 C584.2,1201.8 586.6,1204.8 589.4,1208.3 C592.2,1211.8 595.3,1215.7 598.6,1218.8 C601.9,1221.9 605.4,1224.3 609.1,1226.7 C612.8,1229.1 616.7,1231.5 620.8,1233.2 C624.9,1235.0 629.3,1236.1 633.9,1237.2 C638.5,1238.3 643.9,1239.1 648.3,1239.8 C652.6,1240.5 656.1,1240.9 660.0,1241.5 C663.9,1242.1 666.4,1242.8 671.6,1243.6 C676.8,1244.4 685.1,1245.9 691.2,1246.6 C697.3,1247.3 703.3,1247.2 708.3,1247.8 C713.3,1248.4 716.8,1249.3 721.1,1250.4 C725.4,1251.5 728.9,1252.7 733.9,1254.2 C738.9,1255.7 745.2,1257.7 750.9,1259.4 C756.6,1261.1 762.3,1263.0 768.0,1264.5 C773.7,1266.0 780.0,1267.4 785.0,1268.7 C790.0,1270.0 793.6,1271.0 797.8,1272.2 C802.0,1273.4 805.8,1274.8 810.0,1276.0 C814.2,1277.2 818.8,1278.3 823.3,1279.3 C827.8,1280.3 832.2,1281.2 836.7,1282.0 C841.2,1282.8 845.6,1283.3 850.0,1284.0 C854.4,1284.7 857.8,1285.5 863.3,1286.0 C868.8,1286.5 876.6,1287.0 883.3,1287.3 C890.0,1287.6 895.5,1287.8 903.3,1288.0 C911.1,1288.2 925.5,1288.6 930.0,1288.7"/>
<path stroke="#00f" d="M262.1,975.0 C262.3,980.0 262.8,995.6 263.1,1005.2 C263.4,1014.8 263.2,1024.3 263.8,1032.8 C264.4,1041.3 265.8,1050.0 266.6,1056.2 C267.4,1062.4 268.0,1065.6 268.6,1070.0 C269.2,1074.4 269.8,1077.2 270.5,1082.4 C271.2,1087.6 272.3,1095.2 273.0,1101.0 C273.7,1106.8 273.7,1113.6 274.8,1117.1 C275.9,1120.6 278.1,1122.1 279.8,1122.1 C281.5,1122.1 283.6,1120.0 284.8,1117.1 C286.0,1114.2 286.0,1108.8 287.2,1104.7 C288.4,1100.6 290.2,1096.0 292.2,1092.3 C294.2,1088.6 296.5,1082.8 299.0,1082.4 C301.5,1082.0 304.9,1086.3 307.1,1089.8 C309.3,1093.3 310.8,1098.1 312.0,1103.5 C313.2,1108.9 313.2,1115.9 314.5,1122.1 C315.8,1128.3 317.9,1134.5 319.5,1140.7 C321.1,1146.9 323.3,1153.5 324.4,1159.3 C325.5,1165.1 325.3,1170.7 326.3,1175.4 C327.3,1180.2 329.1,1184.1 330.6,1187.8 C332.2,1191.5 334.1,1193.8 335.6,1197.7 C337.2,1201.6 338.0,1207.8 339.9,1211.4 C341.8,1215.0 343.8,1218.0 346.8,1219.4 C349.8,1220.8 354.6,1221.1 357.9,1220.0 C361.2,1218.9 363.9,1215.3 366.6,1212.6 C369.3,1209.9 371.7,1206.6 374.0,1203.9 C376.3,1201.2 377.9,1199.2 380.2,1196.5 C382.5,1193.8 386.1,1189.5 387.7,1187.8 C389.3,1186.1 388.6,1188.7 390.0,1186.6 C391.4,1184.5 394.1,1178.9 396.2,1175.4 C398.3,1171.9 400.1,1168.4 402.4,1165.5 C404.7,1162.6 407.3,1160.3 409.8,1158.0 C412.3,1155.7 414.6,1153.9 417.3,1151.8 C420.0,1149.7 423.1,1146.9 426.0,1145.6 C428.9,1144.3 431.1,1144.1 434.6,1143.8 C438.1,1143.5 442.9,1143.7 447.0,1143.8 C451.1,1143.9 455.7,1144.3 459.4,1144.4 C463.1,1144.5 466.1,1144.8 469.4,1144.4 C472.7,1144.0 476.2,1143.4 479.3,1141.9 C482.4,1140.5 485.3,1137.8 488.0,1135.7 C490.7,1133.6 493.1,1131.8 495.4,1129.5 C497.7,1127.2 499.3,1124.6 501.6,1122.1 C503.9,1119.6 506.7,1117.1 509.0,1114.6 C511.3,1112.1 513.2,1109.5 515.2,1107.2 C517.2,1104.9 519.4,1102.5 521.3,1101.0 C523.2,1099.5 524.3,1099.2 526.5,1098.3 C528.7,1097.4 531.5,1096.0 534.4,1095.7 C537.2,1095.4 540.8,1095.9 543.6,1096.4 C546.4,1097.0 548.8,1097.6 551.4,1099.0 C554.0,1100.4 556.4,1102.6 559.3,1104.9 C562.1,1107.2 565.5,1109.9 568.5,1112.7 C571.5,1115.5 574.8,1118.6 577.6,1121.9 C580.4,1125.2 582.9,1128.9 585.5,1132.4 C588.1,1135.9 590.7,1139.4 593.3,1142.9 C595.9,1146.4 598.6,1150.0 601.2,1153.3 C603.8,1156.6 606.3,1159.2 609.1,1162.5 C611.9,1165.8 615.2,1169.5 618.2,1173.0 C621.2,1176.5 624.3,1180.0 627.4,1183.5 C630.5,1187.0 633.5,1190.6 636.6,1193.9 C639.7,1197.2 642.7,1200.0 645.7,1203.1 C648.8,1206.2 651.6,1209.0 654.9,1212.3 C658.2,1215.6 662.1,1219.8 665.6,1222.7 C669.1,1225.6 672.1,1227.0 675.8,1229.5 C679.5,1232.0 683.8,1235.2 687.8,1238.0 C691.8,1240.8 695.6,1243.9 699.7,1246.6 C703.8,1249.3 708.2,1251.8 712.5,1254.2 C716.8,1256.6 721.0,1259.0 725.3,1261.1 C729.6,1263.2 733.8,1265.3 738.1,1267.0 C742.4,1268.7 746.6,1269.9 750.9,1271.3 C755.2,1272.7 759.4,1274.3 763.7,1275.6 C768.0,1276.9 771.5,1277.9 776.5,1279.0 C781.5,1280.1 788.0,1281.2 793.6,1282.4 C799.2,1283.6 805.0,1285.2 810.0,1286.0 C815.0,1286.8 818.8,1286.8 823.3,1287.3 C827.8,1287.8 830.0,1288.2 836.7,1288.7 C843.4,1289.2 847.8,1289.7 863.3,1290.0 C878.8,1290.3 918.9,1290.6 930.0,1290.7"/>
<path stroke="#000" d="M1137.5,1160.0 C1138.0,1163.3 1139.0,1175.2 1140.3,1179.9 C1141.6,1184.6 1143.4,1186.1 1145.5,1188.2 C1147.6,1190.3 1150.3,1190.9 1152.7,1192.3 C1155.1,1193.7 1157.6,1194.7 1160.0,1196.4 C1162.4,1198.1 1164.8,1200.5 1167.2,1202.6 C1169.6,1204.7 1172.0,1206.5 1174.4,1208.8 C1176.8,1211.0 1179.3,1213.8 1181.7,1216.1 C1184.1,1218.3 1186.3,1220.8 1188.9,1222.3 C1191.5,1223.8 1194.5,1224.6 1197.2,1224.9 C1200.0,1225.2 1202.8,1224.7 1205.4,1224.3 C1208.0,1223.9 1210.3,1223.5 1212.7,1222.3 C1215.1,1221.1 1217.3,1218.6 1219.9,1217.1 C1222.5,1215.5 1225.5,1214.2 1228.2,1213.0 C1231.0,1211.8 1234.0,1211.1 1236.4,1209.9 C1238.8,1208.7 1240.5,1207.4 1242.6,1205.7 C1244.7,1204.0 1247.1,1201.5 1248.8,1199.5 C1250.5,1197.5 1251.2,1195.5 1252.5,1193.5 C1253.8,1191.5 1254.7,1190.2 1256.5,1187.2 C1258.3,1184.2 1260.9,1179.8 1263.1,1175.4 C1265.3,1171.0 1267.4,1166.0 1269.6,1161.0 C1271.8,1156.0 1274.2,1150.5 1276.2,1145.2 C1278.2,1140.0 1279.7,1134.1 1281.4,1129.5 C1283.2,1124.9 1284.7,1121.2 1286.7,1117.7 C1288.7,1114.2 1291.0,1111.2 1293.2,1108.6 C1295.4,1106.0 1297.6,1103.6 1299.8,1102.0 C1302.0,1100.4 1303.9,1099.0 1306.3,1098.8 C1308.7,1098.6 1311.6,1099.1 1314.2,1100.7 C1316.8,1102.3 1319.6,1105.1 1322.0,1108.6 C1324.4,1112.1 1326.2,1116.9 1328.6,1121.7 C1331.0,1126.5 1334.4,1133.5 1336.4,1137.4 C1338.4,1141.3 1339.2,1141.6 1340.5,1145.0 C1341.8,1148.4 1342.6,1152.8 1344.1,1157.8 C1345.6,1162.8 1348.0,1171.0 1349.6,1175.0 C1351.2,1179.0 1351.8,1178.9 1353.5,1182.0 C1355.2,1185.1 1357.8,1189.8 1360.0,1193.7 C1362.2,1197.6 1364.4,1201.6 1366.6,1205.5 C1368.8,1209.4 1371.0,1213.9 1373.1,1217.3 C1375.2,1220.7 1376.4,1222.5 1379.1,1226.0 C1381.8,1229.5 1385.5,1234.9 1389.3,1238.5 C1393.1,1242.1 1397.4,1245.3 1401.8,1247.6 C1406.2,1249.9 1411.0,1250.6 1415.5,1252.1 C1420.0,1253.6 1424.4,1255.4 1429.1,1256.7 C1433.8,1258.0 1439.0,1259.1 1443.9,1260.1 C1448.8,1261.1 1453.0,1262.3 1458.7,1262.9 C1464.4,1263.5 1471.4,1263.5 1478.0,1263.5 C1484.6,1263.5 1493.2,1263.5 1498.5,1262.9 C1503.8,1262.4 1505.9,1261.3 1510.1,1260.2 C1514.3,1259.1 1518.8,1257.9 1523.6,1256.3 C1528.4,1254.7 1533.9,1252.7 1539.1,1250.6 C1544.2,1248.5 1550.3,1245.7 1554.5,1243.8 C1558.7,1241.9 1560.3,1240.7 1564.0,1239.1 C1567.7,1237.5 1572.5,1235.6 1576.8,1234.0 C1581.1,1232.4 1585.3,1230.8 1589.6,1229.7 C1593.9,1228.6 1596.0,1227.7 1602.4,1227.2 C1608.8,1226.7 1621.2,1226.6 1628.0,1226.7 C1634.8,1226.8 1638.8,1227.3 1643.3,1228.0 C1647.8,1228.7 1651.1,1229.8 1655.2,1230.8 C1659.3,1231.8 1663.5,1232.8 1667.7,1234.0 C1671.9,1235.2 1676.1,1236.5 1680.3,1237.7 C1684.5,1239.0 1688.6,1240.1 1692.8,1241.5 C1697.0,1242.9 1701.1,1244.4 1705.3,1245.9 C1709.5,1247.4 1713.7,1248.8 1717.9,1250.3 C1722.1,1251.8 1726.2,1253.2 1730.4,1254.6 C1734.6,1255.9 1738.7,1257.0 1742.9,1258.4 C1747.1,1259.8 1751.3,1261.3 1755.5,1262.8 C1759.7,1264.3 1763.8,1265.8 1768.0,1267.2 C1772.2,1268.6 1774.3,1269.5 1780.5,1270.9 C1786.7,1272.3 1800.9,1274.7 1805.0,1275.5"/>
<path stroke="#f00" d="M1137.2,1143.5 C1137.5,1145.3 1138.1,1150.6 1138.8,1154.1 C1139.5,1157.6 1140.3,1160.8 1141.4,1164.4 C1142.5,1168.0 1144.0,1172.5 1145.5,1175.8 C1147.0,1179.1 1148.6,1182.2 1150.7,1184.0 C1152.8,1185.8 1155.7,1186.8 1157.9,1186.6 C1160.1,1186.4 1161.9,1184.0 1164.1,1183.0 C1166.3,1182.0 1168.9,1181.6 1171.3,1180.4 C1173.7,1179.2 1176.3,1177.1 1178.6,1175.8 C1180.8,1174.5 1181.4,1173.2 1184.8,1172.7 C1188.2,1172.2 1195.6,1171.5 1199.2,1172.7 C1202.8,1173.9 1203.9,1177.5 1206.5,1179.9 C1209.1,1182.3 1212.5,1184.7 1214.7,1187.1 C1216.9,1189.5 1218.2,1192.3 1219.9,1194.4 C1221.6,1196.5 1223.0,1198.5 1225.1,1199.5 C1227.2,1200.5 1230.1,1199.9 1232.3,1200.6 C1234.5,1201.3 1236.4,1203.7 1238.5,1203.7 C1240.6,1203.7 1242.5,1201.6 1244.7,1200.6 C1246.9,1199.6 1249.3,1198.7 1251.9,1197.5 C1254.5,1196.3 1257.5,1196.1 1260.5,1193.7 C1263.5,1191.3 1266.5,1186.7 1269.6,1183.2 C1272.6,1179.7 1275.9,1176.4 1278.8,1172.7 C1281.7,1169.0 1283.9,1164.7 1286.7,1161.0 C1289.5,1157.3 1293.0,1154.0 1295.8,1150.5 C1298.6,1147.0 1301.1,1143.3 1303.7,1140.0 C1306.3,1136.7 1308.5,1133.8 1311.6,1130.8 C1314.6,1127.8 1318.5,1124.0 1322.0,1122.3 C1325.5,1120.6 1329.0,1120.7 1332.5,1120.4 C1336.0,1120.1 1339.7,1119.1 1343.0,1120.4 C1346.3,1121.7 1349.0,1125.6 1352.1,1128.2 C1355.1,1130.8 1358.8,1133.6 1361.3,1136.1 C1363.8,1138.6 1365.2,1140.8 1366.9,1143.4 C1368.6,1146.0 1370.1,1149.2 1371.7,1151.6 C1373.3,1154.0 1374.7,1155.7 1376.5,1157.8 C1378.3,1159.9 1380.8,1161.8 1382.7,1164.0 C1384.7,1166.2 1386.4,1168.6 1388.2,1170.9 C1390.0,1173.2 1392.0,1175.0 1393.7,1177.8 C1395.4,1180.6 1396.8,1184.5 1398.5,1188.0 C1400.2,1191.5 1402.0,1195.0 1404.1,1198.7 C1406.2,1202.4 1408.2,1206.7 1410.9,1210.1 C1413.6,1213.5 1417.2,1216.2 1420.0,1219.2 C1422.8,1222.2 1425.2,1225.7 1428.0,1228.3 C1430.8,1230.9 1434.2,1232.6 1437.1,1235.1 C1439.9,1237.5 1442.3,1240.3 1445.1,1243.0 C1447.9,1245.7 1450.5,1248.7 1454.1,1251.0 C1457.7,1253.3 1461.8,1255.2 1466.7,1256.7 C1471.6,1258.2 1478.0,1259.7 1483.7,1260.1 C1489.4,1260.5 1497.1,1259.5 1500.8,1259.0 C1504.5,1258.5 1503.3,1258.0 1506.0,1257.0 C1508.7,1256.0 1513.1,1254.4 1517.1,1252.8 C1521.1,1251.2 1525.6,1249.4 1529.9,1247.6 C1534.2,1245.8 1538.4,1243.7 1542.7,1241.7 C1547.0,1239.7 1551.2,1238.1 1555.5,1235.7 C1559.8,1233.3 1564.0,1229.6 1568.3,1227.2 C1572.6,1224.8 1576.8,1223.3 1581.1,1221.2 C1585.4,1219.1 1589.6,1216.4 1593.9,1214.4 C1598.2,1212.4 1602.4,1210.4 1606.7,1209.2 C1611.0,1208.0 1615.2,1208.1 1619.5,1207.5 C1623.8,1206.9 1628.0,1206.1 1632.3,1205.8 C1636.6,1205.5 1641.3,1205.4 1645.1,1205.8 C1648.9,1206.2 1651.4,1207.5 1655.2,1208.3 C1659.0,1209.1 1663.5,1209.9 1667.7,1210.8 C1671.9,1211.7 1676.1,1212.7 1680.3,1213.9 C1684.5,1215.2 1688.6,1216.8 1692.8,1218.3 C1697.0,1219.8 1701.1,1220.9 1705.3,1222.7 C1709.5,1224.5 1713.7,1227.1 1717.9,1229.0 C1722.1,1230.9 1726.2,1232.2 1730.4,1234.0 C1734.6,1235.8 1738.7,1237.7 1742.9,1239.6 C1747.1,1241.5 1751.3,1243.4 1755.5,1245.2 C1759.7,1247.0 1763.8,1248.6 1768.0,1250.3 C1772.2,1252.0 1774.3,1253.3 1780.5,1255.3 C1786.7,1257.3 1800.9,1261.3 1805.0,1262.5"/>
<path stroke="#00f" d="M1137.4,1022.5 C1137.6,1026.6 1138.3,1037.8 1138.8,1046.9 C1139.3,1056.0 1139.8,1070.0 1140.2,1077.2 C1140.6,1084.4 1141.1,1084.9 1141.4,1090.0 C1141.7,1095.1 1141.5,1101.9 1141.9,1107.6 C1142.3,1113.3 1143.1,1119.3 1144.0,1124.1 C1144.9,1128.9 1146.2,1132.4 1147.1,1136.5 C1148.0,1140.6 1148.5,1144.9 1149.6,1148.9 C1150.7,1152.9 1151.9,1157.4 1153.8,1160.3 C1155.7,1163.2 1158.4,1164.6 1161.0,1166.5 C1163.6,1168.4 1166.7,1169.9 1169.3,1171.6 C1171.9,1173.3 1174.3,1174.5 1176.5,1176.8 C1178.7,1179.0 1181.2,1182.2 1182.7,1185.1 C1184.2,1188.0 1184.2,1191.5 1185.8,1194.4 C1187.3,1197.3 1190.3,1199.7 1192.0,1202.6 C1193.7,1205.5 1194.4,1208.8 1196.1,1211.9 C1197.8,1215.0 1199.9,1218.8 1202.3,1221.2 C1204.7,1223.6 1208.2,1225.7 1210.6,1226.4 C1213.0,1227.1 1214.7,1226.6 1216.8,1225.4 C1218.9,1224.2 1221.1,1221.8 1223.0,1219.2 C1224.9,1216.6 1227.0,1213.4 1228.2,1209.9 C1229.4,1206.5 1229.2,1202.1 1230.2,1198.5 C1231.2,1194.9 1233.2,1191.7 1234.4,1188.2 C1235.6,1184.8 1236.5,1181.1 1237.5,1177.8 C1238.5,1174.5 1239.6,1171.4 1240.6,1168.5 C1241.6,1165.6 1242.7,1163.4 1243.7,1160.3 C1244.7,1157.2 1245.8,1153.3 1246.8,1149.9 C1247.8,1146.5 1248.8,1143.6 1250.0,1140.0 C1251.2,1136.4 1252.2,1133.4 1253.9,1128.2 C1255.7,1123.0 1258.5,1114.0 1260.5,1108.6 C1262.5,1103.1 1263.7,1099.4 1265.7,1095.5 C1267.7,1091.6 1270.1,1088.3 1272.3,1085.0 C1274.5,1081.7 1276.2,1079.1 1278.8,1075.8 C1281.4,1072.5 1285.0,1068.7 1288.0,1065.4 C1291.0,1062.1 1294.0,1059.1 1297.1,1056.2 C1300.1,1053.3 1303.2,1050.4 1306.3,1048.3 C1309.4,1046.2 1312.5,1044.5 1315.5,1043.8 C1318.5,1043.0 1321.8,1042.6 1324.6,1043.8 C1327.4,1045.0 1329.9,1048.1 1332.5,1051.0 C1335.1,1053.9 1338.0,1057.9 1340.4,1061.4 C1342.8,1064.9 1345.5,1068.8 1346.9,1071.9 C1348.3,1075.0 1348.2,1077.3 1349.0,1080.0 C1349.8,1082.7 1350.6,1085.4 1351.7,1088.3 C1352.8,1091.2 1354.4,1094.0 1355.8,1097.2 C1357.2,1100.4 1358.7,1104.0 1360.0,1107.5 C1361.3,1111.0 1362.2,1114.5 1363.4,1117.9 C1364.7,1121.4 1366.2,1124.8 1367.5,1128.2 C1368.8,1131.6 1369.8,1135.0 1371.0,1138.5 C1372.2,1142.0 1373.1,1145.5 1374.4,1148.9 C1375.7,1152.4 1377.2,1155.8 1378.6,1159.2 C1380.0,1162.6 1380.9,1165.2 1382.7,1169.5 C1384.5,1173.8 1387.0,1180.0 1389.3,1185.0 C1391.5,1190.0 1393.9,1195.0 1396.2,1199.8 C1398.5,1204.5 1400.5,1209.1 1403.0,1213.5 C1405.5,1217.9 1408.2,1222.2 1410.9,1226.0 C1413.6,1229.8 1415.9,1232.8 1418.9,1236.2 C1421.9,1239.6 1425.5,1243.7 1429.1,1246.5 C1432.7,1249.3 1436.5,1251.4 1440.5,1253.3 C1444.5,1255.2 1448.6,1256.6 1453.0,1257.8 C1457.4,1259.0 1461.6,1260.1 1466.7,1260.7 C1471.8,1261.3 1478.0,1261.2 1483.7,1261.2 C1489.4,1261.2 1496.0,1261.2 1500.8,1260.7 C1505.6,1260.2 1508.7,1258.9 1512.8,1257.9 C1516.9,1256.9 1521.3,1255.9 1525.6,1254.5 C1529.9,1253.1 1534.1,1251.2 1538.4,1249.4 C1542.7,1247.6 1546.9,1245.4 1551.2,1243.4 C1555.5,1241.4 1559.7,1239.7 1564.0,1237.4 C1568.3,1235.1 1572.5,1232.1 1576.8,1229.7 C1581.1,1227.3 1585.3,1225.2 1589.6,1222.9 C1593.9,1220.6 1598.1,1218.2 1602.4,1216.1 C1606.7,1214.0 1610.9,1211.9 1615.2,1210.1 C1619.5,1208.2 1623.7,1206.3 1628.0,1205.0 C1632.3,1203.7 1636.5,1203.2 1640.8,1202.4 C1645.1,1201.6 1649.1,1200.7 1653.6,1200.3 C1658.1,1199.9 1662.0,1200.0 1667.7,1200.1 C1673.4,1200.2 1682.6,1200.2 1687.8,1200.8 C1693.0,1201.4 1695.1,1202.6 1699.1,1203.9 C1703.1,1205.2 1707.4,1207.2 1711.6,1208.9 C1715.8,1210.6 1719.9,1212.2 1724.1,1213.9 C1728.3,1215.6 1732.5,1217.2 1736.7,1218.9 C1740.9,1220.6 1745.0,1222.2 1749.2,1223.9 C1753.4,1225.6 1757.5,1227.1 1761.7,1229.0 C1765.9,1230.9 1770.1,1233.3 1774.3,1235.2 C1778.5,1237.1 1781.7,1238.5 1786.8,1240.2 C1791.9,1241.9 1802.0,1244.6 1805.0,1245.5"/>
</g>
<g fill="none" stroke="#000" stroke-width="5.0">
<rect x="258.8" y="56.1" width="673.5" height="562.0"/>
<path stroke-linecap="round" d="M344.0,616.6v-12.8 M344.0,57.6v12.8 M428.2,616.6v-27.2 M428.2,57.6v27.2 M512.4,616.6v-12.8 M512.4,57.6v12.8 M596.5,616.6v-27.2 M596.5,57.6v27.2 M680.7,616.6v-12.8 M680.7,57.6v12.8 M764.9,616.6v-27.2 M764.9,57.6v27.2 M849.1,616.6v-12.8 M849.1,57.6v12.8 M260.3,546.6h12.8 M930.8,546.6h-12.8 M260.3,477.6h27.2 M930.8,477.6h-27.2 M260.3,406.1h12.8 M930.8,406.1h-12.8 M260.3,337.1h27.2 M930.8,337.1h-27.2 M260.3,265.6h12.8 M930.8,265.6h-12.8 M260.3,196.6h27.2 M930.8,196.6h-27.2 M260.3,125.1h12.8 M930.8,125.1h-12.8"/>
<rect x="1134.4" y="56.1" width="672.8" height="562.0"/>
<path stroke-linecap="round" d="M1219.5,616.6v-12.8 M1219.5,57.6v12.8 M1303.6,616.6v-27.2 M1303.6,57.6v27.2 M1387.7,616.6v-12.8 M1387.7,57.6v12.8 M1471.8,616.6v-27.2 M1471.8,57.6v27.2 M1555.9,616.6v-12.8 M1555.9,57.6v12.8 M1640.0,616.6v-27.2 M1640.0,57.6v27.2 M1724.1,616.6v-12.8 M1724.1,57.6v12.8 M1135.9,546.6h12.8 M1805.7,546.6h-12.8 M1135.9,477.6h27.2 M1805.7,477.6h-27.2 M1135.9,406.1h12.8 M1805.7,406.1h-12.8 M1135.9,337.1h27.2 M1805.7,337.1h-27.2 M1135.9,265.6h12.8 M1805.7,265.6h-12.8 M1135.9,196.6h27.2 M1805.7,196.6h-27.2 M1135.9,125.1h12.8 M1805.7,125.1h-12.8"/>
<rect x="258.8" y="729.8" width="673.5" height="563.7"/>
<path stroke-linecap="round" d="M344.0,1292.0v-12.8 M344.0,731.3v12.8 M428.2,1292.0v-27.2 M428.2,731.3v27.2 M512.4,1292.0v-12.8 M512.4,731.3v12.8 M596.5,1292.0v-27.2 M596.5,731.3v27.2 M680.7,1292.0v-12.8 M680.7,731.3v12.8 M764.9,1292.0v-27.2 M764.9,731.3v27.2 M849.1,1292.0v-12.8 M849.1,731.3v12.8 M260.3,1221.7h12.8 M930.8,1221.7h-12.8 M260.3,1152.6h27.2 M930.8,1152.6h-27.2 M260.3,1080.8h12.8 M930.8,1080.8h-12.8 M260.3,1011.6h27.2 M930.8,1011.6h-27.2 M260.3,939.9h12.8 M930.8,939.9h-12.8 M260.3,870.7h27.2 M930.8,870.7h-27.2 M260.3,799.0h12.8 M930.8,799.0h-12.8"/>
<rect x="1134.4" y="729.8" width="672.8" height="563.7"/>
<path stroke-linecap="round" d="M1219.5,1292.0v-12.8 M1219.5,731.3v12.8 M1303.6,1292.0v-27.2 M1303.6,731.3v27.2 M1387.7,1292.0v-12.8 M1387.7,731.3v12.8 M1471.8,1292.0v-27.2 M1471.8,731.3v27.2 M1555.9,1292.0v-12.8 M1555.9,731.3v12.8 M1640.0,1292.0v-27.2 M1640.0,731.3v27.2 M1724.1,1292.0v-12.8 M1724.1,731.3v12.8 M1135.9,1221.7h12.8 M1805.7,1221.7h-12.8 M1135.9,1152.6h27.2 M1805.7,1152.6h-27.2 M1135.9,1080.8h12.8 M1805.7,1080.8h-12.8 M1135.9,1011.6h27.2 M1805.7,1011.6h-27.2 M1135.9,939.9h12.8 M1805.7,939.9h-12.8 M1135.9,870.7h27.2 M1805.7,870.7h-27.2 M1135.9,799.0h12.8 M1805.7,799.0h-12.8"/>
</g>
<g stroke-width="4.8" stroke-linecap="round">
<line x1="289.8" y1="130.2" x2="349.7" y2="130.2" stroke="#000"/>
<line x1="289.8" y1="175.2" x2="349.7" y2="175.2" stroke="#f00"/>
<line x1="289.8" y1="220.3" x2="349.7" y2="220.3" stroke="#00f"/>
</g>
<text transform="translate(379.4,146.2) scale(0.946,1)" font-size="43.0">Azothio-a</text>
<text transform="translate(379.4,191.3) scale(0.946,1)" font-size="43.0">Azothio-b</text>
<text transform="translate(379.4,236.5) scale(0.946,1)" font-size="43.0">Azothio-c</text>
<text transform="translate(220.0,670.6) scale(0.985,1)" font-size="50.5">200</text>
<text transform="translate(388.4,670.6) scale(0.985,1)" font-size="50.5">300</text>
<text transform="translate(556.8,670.6) scale(0.985,1)" font-size="50.5">400</text>
<text transform="translate(725.1,670.6) scale(0.985,1)" font-size="50.5">500</text>
<text transform="translate(893.5,670.6) scale(0.985,1)" font-size="50.5">600</text>
<text transform="translate(117.8,505.9) scale(0.970,1)" font-size="50.0" clip-path="url(#c1)">1</text>
<text class="dj" x="139.6" y="506.7" font-size="45.0">×</text>
<text transform="translate(174.2,505.9) scale(0.970,1)" font-size="50.0" clip-path="url(#c1)">1</text>
<text transform="translate(201.2,505.9) scale(0.970,1)" font-size="50.0">0</text>
<text class="reg" transform="translate(227.3,475.9) scale(0.930,1)" font-size="37.0" stroke="#000" stroke-width="0.7">4</text>
<text transform="translate(114.8,365.4) scale(0.970,1)" font-size="50.0">2</text>
<text class="dj" x="139.6" y="366.2" font-size="45.0">×</text>
<text transform="translate(174.2,365.4) scale(0.970,1)" font-size="50.0" clip-path="url(#c1)">1</text>
<text transform="translate(201.2,365.4) scale(0.970,1)" font-size="50.0">0</text>
<text class="reg" transform="translate(227.3,335.4) scale(0.930,1)" font-size="37.0" stroke="#000" stroke-width="0.7">4</text>
<text transform="translate(114.8,224.9) scale(0.970,1)" font-size="50.0">3</text>
<text class="dj" x="139.6" y="225.7" font-size="45.0">×</text>
<text transform="translate(174.2,224.9) scale(0.970,1)" font-size="50.0" clip-path="url(#c1)">1</text>
<text transform="translate(201.2,224.9) scale(0.970,1)" font-size="50.0">0</text>
<text class="reg" transform="translate(227.3,194.9) scale(0.930,1)" font-size="37.0" stroke="#000" stroke-width="0.7">4</text>
<text transform="translate(114.8,84.4) scale(0.970,1)" font-size="50.0">4</text>
<text class="dj" x="139.6" y="85.2" font-size="45.0">×</text>
<text transform="translate(174.2,84.4) scale(0.970,1)" font-size="50.0" clip-path="url(#c1)">1</text>
<text transform="translate(201.2,84.4) scale(0.970,1)" font-size="50.0">0</text>
<text class="reg" transform="translate(227.3,54.4) scale(0.930,1)" font-size="37.0" stroke="#000" stroke-width="0.7">4</text>
<text transform="translate(1095.6,670.6) scale(0.985,1)" font-size="50.5">200</text>
<text transform="translate(1263.8,670.6) scale(0.985,1)" font-size="50.5">300</text>
<text transform="translate(1432.0,670.6) scale(0.985,1)" font-size="50.5">400</text>
<text transform="translate(1600.2,670.6) scale(0.985,1)" font-size="50.5">500</text>
<text transform="translate(1768.4,670.6) scale(0.985,1)" font-size="50.5">600</text>
<text transform="translate(992.2,505.9) scale(0.970,1)" font-size="50.0" clip-path="url(#c1)">1</text>
<text class="dj" x="1014.0" y="506.7" font-size="45.0">×</text>
<text transform="translate(1048.6,505.9) scale(0.970,1)" font-size="50.0" clip-path="url(#c1)">1</text>
<text transform="translate(1075.6,505.9) scale(0.970,1)" font-size="50.0">0</text>
<text class="reg" transform="translate(1101.7,475.9) scale(0.930,1)" font-size="37.0" stroke="#000" stroke-width="0.7">4</text>
<text transform="translate(989.2,365.4) scale(0.970,1)" font-size="50.0">2</text>
<text class="dj" x="1014.0" y="366.2" font-size="45.0">×</text>
<text transform="translate(1048.6,365.4) scale(0.970,1)" font-size="50.0" clip-path="url(#c1)">1</text>
<text transform="translate(1075.6,365.4) scale(0.970,1)" font-size="50.0">0</text>
<text class="reg" transform="translate(1101.7,335.4) scale(0.930,1)" font-size="37.0" stroke="#000" stroke-width="0.7">4</text>
<text transform="translate(989.2,224.9) scale(0.970,1)" font-size="50.0">3</text>
<text class="dj" x="1014.0" y="225.7" font-size="45.0">×</text>
<text transform="translate(1048.6,224.9) scale(0.970,1)" font-size="50.0" clip-path="url(#c1)">1</text>
<text transform="translate(1075.6,224.9) scale(0.970,1)" font-size="50.0">0</text>
<text class="reg" transform="translate(1101.7,194.9) scale(0.930,1)" font-size="37.0" stroke="#000" stroke-width="0.7">4</text>
<text transform="translate(989.2,84.4) scale(0.970,1)" font-size="50.0">4</text>
<text class="dj" x="1014.0" y="85.2" font-size="45.0">×</text>
<text transform="translate(1048.6,84.4) scale(0.970,1)" font-size="50.0" clip-path="url(#c1)">1</text>
<text transform="translate(1075.6,84.4) scale(0.970,1)" font-size="50.0">0</text>
<text class="reg" transform="translate(1101.7,54.4) scale(0.930,1)" font-size="37.0" stroke="#000" stroke-width="0.7">4</text>
<text transform="translate(220.0,1346.0) scale(0.985,1)" font-size="50.5">200</text>
<text transform="translate(388.4,1346.0) scale(0.985,1)" font-size="50.5">300</text>
<text transform="translate(556.8,1346.0) scale(0.985,1)" font-size="50.5">400</text>
<text transform="translate(725.1,1346.0) scale(0.985,1)" font-size="50.5">500</text>
<text transform="translate(893.5,1346.0) scale(0.985,1)" font-size="50.5">600</text>
<text transform="translate(117.8,1183.1) scale(0.970,1)" font-size="50.0" clip-path="url(#c1)">1</text>
<text class="dj" x="139.6" y="1183.8" font-size="45.0">×</text>
<text transform="translate(174.2,1183.1) scale(0.970,1)" font-size="50.0" clip-path="url(#c1)">1</text>
<text transform="translate(201.2,1183.1) scale(0.970,1)" font-size="50.0">0</text>
<text class="reg" transform="translate(227.3,1153.1) scale(0.930,1)" font-size="37.0" stroke="#000" stroke-width="0.7">4</text>
<text transform="translate(114.8,1042.2) scale(0.970,1)" font-size="50.0">2</text>
<text class="dj" x="139.6" y="1042.9" font-size="45.0">×</text>
<text transform="translate(174.2,1042.2) scale(0.970,1)" font-size="50.0" clip-path="url(#c1)">1</text>
<text transform="translate(201.2,1042.2) scale(0.970,1)" font-size="50.0">0</text>
<text class="reg" transform="translate(227.3,1012.2) scale(0.930,1)" font-size="37.0" stroke="#000" stroke-width="0.7">4</text>
<text transform="translate(114.8,901.2) scale(0.970,1)" font-size="50.0">3</text>
<text class="dj" x="139.6" y="902.0" font-size="45.0">×</text>
<text transform="translate(174.2,901.2) scale(0.970,1)" font-size="50.0" clip-path="url(#c1)">1</text>
<text transform="translate(201.2,901.2) scale(0.970,1)" font-size="50.0">0</text>
<text class="reg" transform="translate(227.3,871.2) scale(0.930,1)" font-size="37.0" stroke="#000" stroke-width="0.7">4</text>
<text transform="translate(114.8,760.3) scale(0.970,1)" font-size="50.0">4</text>
<text class="dj" x="139.6" y="761.0" font-size="45.0">×</text>
<text transform="translate(174.2,760.3) scale(0.970,1)" font-size="50.0" clip-path="url(#c1)">1</text>
<text transform="translate(201.2,760.3) scale(0.970,1)" font-size="50.0">0</text>
<text class="reg" transform="translate(227.3,730.3) scale(0.930,1)" font-size="37.0" stroke="#000" stroke-width="0.7">4</text>
<text transform="translate(1095.6,1346.0) scale(0.985,1)" font-size="50.5">200</text>
<text transform="translate(1263.8,1346.0) scale(0.985,1)" font-size="50.5">300</text>
<text transform="translate(1432.0,1346.0) scale(0.985,1)" font-size="50.5">400</text>
<text transform="translate(1600.2,1346.0) scale(0.985,1)" font-size="50.5">500</text>
<text transform="translate(1768.4,1346.0) scale(0.985,1)" font-size="50.5">600</text>
<text transform="translate(992.2,1183.1) scale(0.970,1)" font-size="50.0" clip-path="url(#c1)">1</text>
<text class="dj" x="1014.0" y="1183.8" font-size="45.0">×</text>
<text transform="translate(1048.6,1183.1) scale(0.970,1)" font-size="50.0" clip-path="url(#c1)">1</text>
<text transform="translate(1075.6,1183.1) scale(0.970,1)" font-size="50.0">0</text>
<text class="reg" transform="translate(1101.7,1153.1) scale(0.930,1)" font-size="37.0" stroke="#000" stroke-width="0.7">4</text>
<text transform="translate(989.2,1042.2) scale(0.970,1)" font-size="50.0">2</text>
<text class="dj" x="1014.0" y="1042.9" font-size="45.0">×</text>
<text transform="translate(1048.6,1042.2) scale(0.970,1)" font-size="50.0" clip-path="url(#c1)">1</text>
<text transform="translate(1075.6,1042.2) scale(0.970,1)" font-size="50.0">0</text>
<text class="reg" transform="translate(1101.7,1012.2) scale(0.930,1)" font-size="37.0" stroke="#000" stroke-width="0.7">4</text>
<text transform="translate(989.2,901.2) scale(0.970,1)" font-size="50.0">3</text>
<text class="dj" x="1014.0" y="902.0" font-size="45.0">×</text>
<text transform="translate(1048.6,901.2) scale(0.970,1)" font-size="50.0" clip-path="url(#c1)">1</text>
<text transform="translate(1075.6,901.2) scale(0.970,1)" font-size="50.0">0</text>
<text class="reg" transform="translate(1101.7,871.2) scale(0.930,1)" font-size="37.0" stroke="#000" stroke-width="0.7">4</text>
<text transform="translate(989.2,760.3) scale(0.970,1)" font-size="50.0">4</text>
<text class="dj" x="1014.0" y="761.0" font-size="45.0">×</text>
<text transform="translate(1048.6,760.3) scale(0.970,1)" font-size="50.0" clip-path="url(#c1)">1</text>
<text transform="translate(1075.6,760.3) scale(0.970,1)" font-size="50.0">0</text>
<text class="reg" transform="translate(1101.7,730.3) scale(0.930,1)" font-size="37.0" stroke="#000" stroke-width="0.7">4</text>
<text transform="translate(840.4,137.9) scale(0.827,1)" font-size="59.4" stroke="#000" stroke-width="1.6">E</text>
<text transform="translate(1518.1,138.2) scale(0.839,1)" font-size="60.0" stroke="#000" stroke-width="1.6">E</text>
<text transform="translate(850.1,823.5) scale(0.970,1)" font-size="61.0" stroke="#000" stroke-width="1.0">Z</text>
<text transform="translate(1483.1,823.6) scale(0.942,1)" font-size="61.0" stroke="#000" stroke-width="1.0">Z</text>
<text transform="translate(1551.3,135.5) scale(1.18,1)" font-size="60">–</text>
<text transform="translate(1515.5,820.2) scale(1.18,1)" font-size="60">–</text>
<text transform="translate(1588.9,139.0) scale(1.040,1)" font-size="61.0">twist</text>
<text transform="translate(1553.0,824.1) scale(1.040,1)" font-size="61.0">twist</text>
<text transform="translate(838.3,1420.0) scale(0.981,1)" font-size="50.0">Wavelength (nm)</text>
<text font-size="51.0" transform="translate(69,893.6) rotate(-90) scale(0.968,1)">Computed absorbance</text>
</svg></body></html>
